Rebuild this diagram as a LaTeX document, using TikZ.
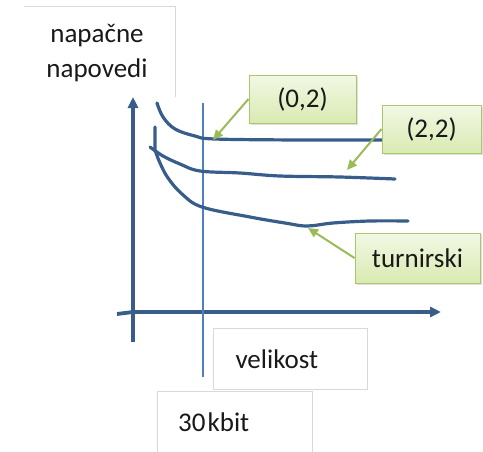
\documentclass[tikz,border=0pt]{standalone}
\usepackage{fontspec}
\setmainfont{Carlito}
\usetikzlibrary{arrows.meta,shadows}

\definecolor{axisblue}{HTML}{385D8A}
\definecolor{thinblue}{HTML}{4F81BD}
\definecolor{pointgreen}{HTML}{9BBB59}
\definecolor{calloutlight}{HTML}{F2F8E4}
\definecolor{calloutdark}{HTML}{D9EAB2}
\definecolor{calloutedge}{HTML}{A9C86E}

\begin{document}
\begin{tikzpicture}[x=1pt, y=-1pt,
    lbl/.style={font=\fontsize{27}{35}\selectfont, text=black!90, inner sep=0pt},
    frame/.style={draw=black!15, line width=1pt},
    callout/.style={lbl, draw=calloutedge, line width=1pt, top color=calloutlight, bottom color=calloutdark,
        drop shadow={shadow xshift=2pt, shadow yshift=-2pt, opacity=0.25}},
    ptr/.style={-{Triangle[length=10pt, width=9pt]}, draw=pointgreen, line width=2pt},
    axis/.style={-{Triangle[length=11pt, width=10pt]}, draw=axisblue, line width=3.8pt},
    curve/.style={draw=axisblue, line width=3.2pt, line cap=round, line join=round},
]
\useasboundingbox (0,0) rectangle (483,451);

% Axis labels
\node[lbl, align=center, minimum width=151, minimum height=94] (ylab) at (97,53) {napačne\\napovedi};
\draw[frame] (24,6) -- (175,6) -- (175,97);

\node[lbl, frame, align=left, text width=110, inner xsep=22, minimum height=61, anchor=north west] (xlab) at (213,328) {velikost};
\node[lbl, align=left, text width=113, inner xsep=21, minimum height=62, anchor=north west] (size) at (157,391) {30\kern2pt kbit};
\draw[frame] (size.south west) -- (size.north west) -- (size.north east) -- (size.south east);

% Axes
\coordinate (ytop) at (133,97);
\coordinate (ybot) at (133,342);
\coordinate (xleft) at (117,314);
\coordinate (xright) at (441,312);
\draw[axis] (ybot) -- (ytop);
\draw[axis] (xleft) -- (133,312) -- (xright);

% Marker at 30 kbit
\draw[thinblue, line width=1.2pt] (203,103) -- (203,377);

% Curves
\draw[curve] plot[smooth, tension=0.6] coordinates {(157,103) (163,117) (175,129) (195,136) (215,139) (300,140) (385,140)};
\draw[curve] plot[smooth, tension=0.6] coordinates {(150,147) (163,156) (180,164) (200,171) (240,173) (280,176) (340,177) (395,179)};
\draw[curve] (155,127) -- (155,150) plot[smooth, tension=0.6] coordinates {(155,150) (160,163) (168,178) (182,194) (202,207) (250,217) (285,223) (307,226) (333,223) (370,221) (408,221)};

% Callouts
\node[callout, minimum width=107, minimum height=48] (c02) at (302.5,99) {(0,2)};
\node[callout, minimum width=99, minimum height=48] (c22) at (431.5,129) {(2,2)};
\node[callout, minimum width=125, minimum height=50] (cturn) at (417.5,258) {turnirski};

\coordinate (tip02) at (213,140);
\coordinate (tip22) at (347,170);
\coordinate (tipturn) at (308,228);
\draw[ptr] (c02.west) -- (tip02);
\draw[ptr] (c22.west) -- (tip22);
\draw[ptr] (cturn.west) -- (tipturn);

\end{tikzpicture}
\end{document}
